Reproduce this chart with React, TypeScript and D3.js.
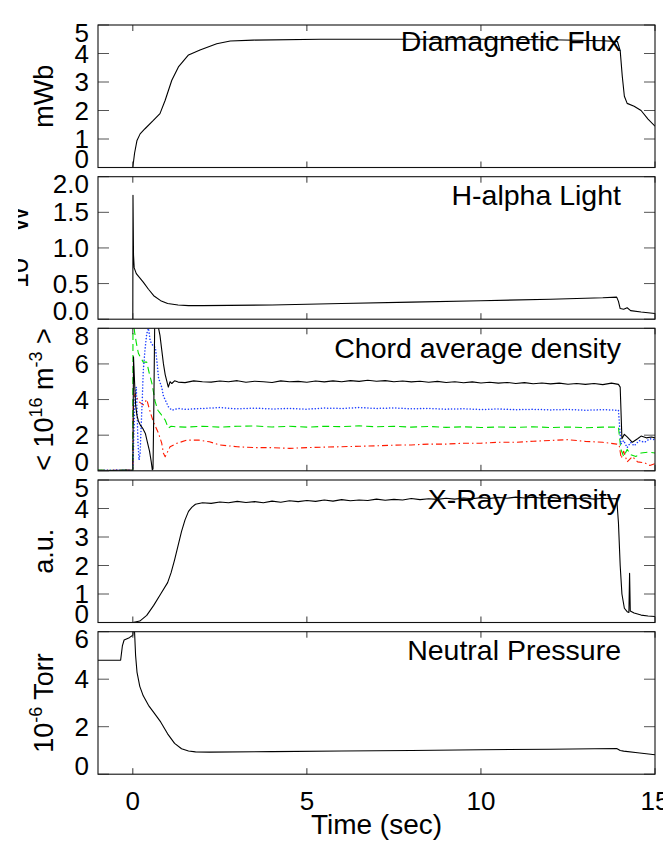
import React from 'react';
import * as d3 from 'd3';

// ---------- data ----------
const timeDomain = [-1, 15];
const xTickValues = [0, 5, 10, 15];

const panelTitles = ['Diamagnetic Flux', 'H-alpha Light', 'Chord average density', 'X-Ray Intensity', 'Neutral Pressure'];
const yDomains = [[0, 5], [0, 2], [0, 8], [0, 5], [0, 6]];
const yTickValues = [
  [0, 1, 2, 3, 4, 5],
  [0, 0.5, 1, 1.5, 2],
  [0, 2, 4, 6, 8],
  [0, 1, 2, 3, 4, 5],
  [0, 2, 4, 6],
];

const diaFlux: [number, number][] = [
  [0, 0], [0.05, 0.5], [0.12, 0.95], [0.21, 1.18], [0.35, 1.36], [0.59, 1.65], [0.78, 1.89], [0.93, 2.36],
  [1.12, 3.06], [1.31, 3.53], [1.6, 3.95], [1.93, 4.12], [2.41, 4.34], [2.8, 4.44], [3.46, 4.47], [5.4, 4.5],
  [8, 4.5], [10, 4.5], [12, 4.48], [13.5, 4.45], [13.92, 4.42], [14.0, 4.1], [14.06, 3.2], [14.12, 2.5],
  [14.2, 2.25], [14.4, 2.15], [14.6, 2.0], [14.8, 1.7], [15, 1.45],
];

const hAlpha: [number, number][] = [
  [0, 0], [0.005, 1.74], [0.02, 0.9], [0.04, 0.72], [0.1, 0.64], [0.2, 0.58], [0.3, 0.52], [0.45, 0.42],
  [0.6, 0.33], [0.8, 0.26], [1.0, 0.22], [1.3, 0.2], [1.6, 0.19], [2, 0.19], [4, 0.2], [6, 0.22], [8, 0.24],
  [10, 0.26], [12, 0.28], [13.5, 0.3], [13.9, 0.31], [13.95, 0.25], [14.0, 0.15], [14.1, 0.14], [14.2, 0.16],
  [14.3, 0.12], [14.6, 0.1], [15, 0.08],
];

const densBlack: [number, number][] = [
  [-1, 0.03], [-0.6, 0.02], [-0.2, 0.04], [0, 0.03], [0.02, 6.4], [0.05, 5.0], [0.08, 3.7], [0.12, 3.1],
  [0.16, 2.8], [0.22, 2.55], [0.28, 2.4], [0.36, 2.1], [0.42, 1.6], [0.48, 1.1], [0.53, 0.5], [0.56, 0.05],
  [0.58, 0.1], [0.6, 3.0], [0.63, 8.5], [0.66, 8.2], [0.7, 8.4], [0.74, 8.0], [0.78, 7.6], [0.83, 6.8],
  [0.88, 6.0], [0.93, 5.4], [0.98, 5.0], [1.02, 4.7], [1.07, 5.0], [1.12, 4.9], [1.2, 5.05], [1.3, 4.98],
  [1.5, 4.95], [1.75, 5.05], [2, 5.0], [2.25, 4.98], [2.5, 5.04], [2.75, 5.0], [3, 5.06], [3.25, 4.97],
  [3.5, 5.03], [3.75, 5.0], [4, 4.96], [4.25, 5.05], [4.5, 5.0], [4.75, 5.02], [5, 4.97], [5.25, 5.04],
  [5.5, 4.99], [5.75, 5.05], [6, 5.0], [6.25, 5.06], [6.5, 5.02], [6.75, 5.08], [7, 5.03], [7.25, 5.06],
  [7.5, 5.0], [7.75, 5.04], [8, 4.99], [8.25, 5.03], [8.5, 4.97], [8.75, 5.02], [9, 4.96], [9.25, 5.0],
  [9.5, 4.94], [9.75, 4.99], [10, 4.93], [10.25, 4.97], [10.5, 4.92], [10.75, 4.96], [11, 4.9], [11.25, 4.95],
  [11.5, 4.89], [11.75, 4.93], [12, 4.88], [12.25, 4.92], [12.5, 4.86], [12.75, 4.9], [13, 4.85], [13.25, 4.9],
  [13.5, 4.84], [13.75, 4.92], [13.95, 4.85], [14.0, 4.7], [14.05, 1.8], [14.12, 2.05], [14.2, 1.9],
  [14.35, 1.6], [14.5, 1.8], [14.6, 1.95], [14.75, 1.85], [14.9, 1.9], [15, 1.85],
];

const densBlue: [number, number][] = [
  [-1, 0.02], [-0.5, 0.04], [0, 0.02], [0.03, 2.0], [0.06, 4.0], [0.1, 4.7], [0.12, 3.5], [0.15, 1.5],
  [0.18, 0.6], [0.21, 1.0], [0.24, 2.5], [0.27, 3.9], [0.3, 5.6], [0.35, 6.8], [0.4, 7.7], [0.45, 8.0],
  [0.5, 7.3], [0.55, 7.1], [0.6, 7.0], [0.65, 6.9], [0.7, 6.0], [0.74, 5.2], [0.83, 4.7], [0.88, 4.2],
  [1.02, 3.6], [1.12, 3.4], [1.3, 3.5], [1.5, 3.45], [2, 3.5], [2.5, 3.55], [3, 3.48], [3.5, 3.52],
  [4, 3.47], [4.5, 3.5], [5, 3.46], [5.5, 3.52], [6, 3.5], [6.5, 3.55], [7, 3.5], [7.5, 3.53], [8, 3.48],
  [8.5, 3.5], [9, 3.46], [9.5, 3.48], [10, 3.44], [10.5, 3.47], [11, 3.43], [11.5, 3.45], [12, 3.42],
  [12.5, 3.44], [13, 3.4], [13.5, 3.43], [13.95, 3.4], [14.02, 1.5], [14.1, 1.7], [14.2, 1.3], [14.3, 1.6],
  [14.4, 1.4], [14.55, 1.7], [14.7, 1.6], [14.85, 1.8], [15, 1.75],
];

const densGreen: [number, number][] = [
  [-1, 0.04], [-0.5, 0.02], [0, 0.03], [0.005, 8.6], [0.05, 7.8], [0.1, 7.2], [0.16, 6.6], [0.21, 6.4],
  [0.3, 6.1], [0.4, 6.1], [0.47, 5.5], [0.55, 4.9], [0.64, 3.9], [0.72, 3.4], [0.8, 3.2], [0.93, 2.85],
  [1.02, 2.4], [1.1, 2.5], [1.26, 2.47], [1.5, 2.45], [2, 2.5], [2.5, 2.45], [3, 2.5], [3.5, 2.52],
  [4, 2.46], [4.5, 2.5], [5, 2.45], [5.5, 2.5], [6, 2.48], [6.5, 2.52], [7, 2.47], [7.5, 2.5], [8, 2.45],
  [8.5, 2.49], [9, 2.44], [9.5, 2.47], [10, 2.43], [10.5, 2.46], [11, 2.44], [11.5, 2.47], [12, 2.43],
  [12.5, 2.46], [13, 2.42], [13.5, 2.45], [13.95, 2.45], [14.02, 1.2], [14.1, 0.8], [14.2, 1.2], [14.3, 0.9],
  [14.45, 0.8], [14.6, 1.0], [14.8, 1.05], [15, 1.0],
];

const densRed: [number, number][] = [
  [-1, 0.02], [-0.5, 0.03], [0, 0.03], [0.02, 4.0], [0.07, 4.35], [0.16, 3.9], [0.3, 3.7], [0.4, 4.0],
  [0.5, 3.3], [0.59, 2.75], [0.74, 2.1], [0.83, 1.55], [0.88, 0.98], [0.93, 0.79], [1.07, 1.35], [1.26, 1.54],
  [1.55, 1.72], [1.9, 1.72], [2.2, 1.63], [2.5, 1.45], [3, 1.35], [3.5, 1.3], [4, 1.3], [4.5, 1.26],
  [5, 1.3], [5.5, 1.33], [6, 1.35], [6.5, 1.38], [7, 1.4], [7.5, 1.44], [8, 1.45], [8.5, 1.5], [9, 1.5],
  [9.5, 1.55], [10, 1.55], [10.5, 1.6], [11, 1.6], [11.5, 1.66], [12, 1.7], [12.5, 1.75], [13, 1.65],
  [13.5, 1.6], [13.9, 1.5], [13.97, 1.45], [14.03, 0.7], [14.1, 1.1], [14.2, 0.5], [14.35, 0.8], [14.5, 0.5],
  [14.7, 0.45], [14.85, 0.3], [15, 0.4],
];

const xRay: [number, number][] = [
  [0, 0], [0.2, 0.05], [0.4, 0.25], [0.6, 0.6], [0.8, 1.0], [1.0, 1.4], [1.1, 1.75], [1.2, 2.2], [1.3, 2.7],
  [1.4, 3.2], [1.5, 3.6], [1.6, 3.9], [1.7, 4.05], [1.8, 4.15], [2.0, 4.2], [2.25, 4.18], [2.5, 4.23],
  [2.75, 4.2], [3, 4.25], [3.25, 4.21], [3.5, 4.24], [3.75, 4.2], [4, 4.26], [4.25, 4.22], [4.5, 4.27],
  [4.75, 4.24], [5, 4.28], [5.25, 4.25], [5.5, 4.3], [5.75, 4.26], [6, 4.31], [6.25, 4.27], [6.5, 4.3],
  [6.75, 4.28], [7, 4.33], [7.25, 4.29], [7.5, 4.32], [7.75, 4.3], [8, 4.35], [8.25, 4.31], [8.5, 4.34],
  [8.75, 4.32], [9, 4.36], [9.25, 4.33], [9.5, 4.37], [9.75, 4.34], [10, 4.38], [10.25, 4.35], [10.5, 4.39],
  [10.75, 4.36], [11, 4.4], [11.25, 4.37], [11.5, 4.4], [11.75, 4.36], [12, 4.39], [12.25, 4.35], [12.5, 4.38],
  [12.75, 4.34], [13, 4.37], [13.25, 4.33], [13.5, 4.36], [13.75, 4.34], [13.9, 4.35], [13.95, 3.5],
  [14.0, 2.0], [14.05, 1.0], [14.12, 0.5], [14.2, 0.38], [14.25, 0.35], [14.27, 1.73], [14.29, 0.4],
  [14.4, 0.33], [14.6, 0.26], [14.8, 0.23], [15, 0.21],
];

const neutralP: [number, number][] = [
  [-1, 4.8], [-0.35, 4.8], [-0.3, 5.4], [-0.25, 5.65], [-0.1, 5.75], [0, 5.85], [0.02, 6.15], [0.05, 6.0],
  [0.08, 5.0], [0.12, 4.3], [0.2, 3.7], [0.3, 3.3], [0.45, 2.9], [0.6, 2.6], [0.8, 2.2], [1.0, 1.7],
  [1.2, 1.3], [1.4, 1.07], [1.6, 0.98], [1.8, 0.94], [2.2, 0.93], [4, 0.95], [6, 0.98], [8, 1.0], [10, 1.03],
  [12, 1.05], [13.9, 1.08], [14.0, 1.0], [14.1, 0.97], [14.5, 0.9], [15, 0.82],
];

// ---------- layout ----------
const W = 663;
const H = 844;
const LEFT = 98;
const RIGHT = 655;
const PANEL_TOPS = [25, 176.7, 328.3, 480, 631.7];
const PANEL_H = 142.5;
const TITLE_OFFSETS = [26, 28, 30, 29, 28];
const FONT = "'Liberation Sans', Arial, Helvetica, sans-serif";

type Series = { data: [number, number][]; color: string; dash?: string; cap?: string; width?: number };

const panelSeries: Series[][] = [
  [{ data: diaFlux, color: '#000' }],
  [{ data: hAlpha, color: '#000' }],
  [
    { data: densRed, color: '#ff1a00', dash: '6,3,1.5,3' },
    { data: densGreen, color: '#00e000', dash: '7,4' },
    { data: densBlue, color: '#1a3cff', dash: '0.1,3', cap: 'round', width: 1.5 },
    { data: densBlack, color: '#000' },
  ],
  [{ data: xRay, color: '#000' }],
  [{ data: neutralP, color: '#000' }],
];

function YTitle({ i, cx, cy }: { i: number; cx: number; cy: number }) {
  const common = {
    transform: `translate(${cx},${cy}) rotate(-90)`,
    fontSize: 27,
    fill: '#000',
  };
  if (i === 0) return <text {...common} textAnchor="middle">mWb</text>;
  if (i === 1)
    return (
      <text {...common} textAnchor="start" x={0}>
        10<tspan dx={26}>W</tspan>
      </text>
    );
  if (i === 2)
    return (
      <text {...common} textAnchor="middle">
        {'< 10'}
        <tspan fontSize={18} dy={-11}>16</tspan>
        <tspan dy={11}>{' m'}</tspan>
        <tspan fontSize={18} dy={-11}>-3</tspan>
        <tspan dy={11}>{' >'}</tspan>
      </text>
    );
  if (i === 3) return <text {...common} textAnchor="middle">a.u.</text>;
  return (
    <text {...common} textAnchor="middle">
      10
      <tspan fontSize={18} dy={-11}>-6</tspan>
      <tspan dy={11}>{' Torr'}</tspan>
    </text>
  );
}

export default function App() {
  const x = d3.scaleLinear().domain(timeDomain).range([LEFT, RIGHT]);

  return (
    <svg
      width={W}
      height={H}
      style={{ position: 'absolute', left: 0, top: 0, background: '#fff', overflow: 'hidden' }}
      fontFamily={FONT}
    >
      <defs>
        {PANEL_TOPS.map((top, i) => (
          <clipPath id={`clip${i}`} key={i}>
            <rect x={LEFT} y={top} width={RIGHT - LEFT} height={PANEL_H} />
          </clipPath>
        ))}
        <clipPath id="hclipOuter">
          <rect x={18} y={170} width={60} height={160} />
        </clipPath>
      </defs>
      {PANEL_TOPS.map((top, i) => {
        const bottom = top + PANEL_H;
        const y = d3.scaleLinear().domain(yDomains[i]).range([bottom, top]);
        const line = d3
          .line<[number, number]>()
          .x((d) => x(d[0]))
          .y((d) => y(d[1]));
        const fmt = i === 1 ? d3.format('.1f') : d3.format('d');
        const cy = (top + bottom) / 2;
        return (
          <g key={i}>
            <text x={621} y={top + TITLE_OFFSETS[i]} textAnchor="end" fontSize={28.5} fill="#000">
              {panelTitles[i]}
            </text>
            <g clipPath={`url(#clip${i})`}>
              {panelSeries[i].map((s, k) => (
                <path
                  key={k}
                  d={line(s.data) || ''}
                  fill="none"
                  stroke={s.color}
                  strokeWidth={s.width ?? 1.1}
                  strokeDasharray={s.dash}
                  strokeLinecap={(s.cap as any) ?? 'butt'}
                  strokeLinejoin="round"
                />
              ))}
            </g>
            {yTickValues[i].map((t) => (
              <g key={`yt${t}`}>
                <line x1={LEFT} x2={LEFT + 11} y1={y(t)} y2={y(t)} stroke="#555" strokeWidth={1} />
                <line x1={RIGHT - 11} x2={RIGHT} y1={y(t)} y2={y(t)} stroke="#555" strokeWidth={1} />
                <text
                  x={89}
                  y={Math.max(top + 16.5, Math.min(bottom + 0.5, y(t) + 9))}
                  textAnchor="end"
                  fontSize={26}
                  fill="#000"
                >
                  {fmt(t)}
                </text>
              </g>
            ))}
            {xTickValues.map((t) => (
              <g key={`xt${t}`}>
                <line x1={x(t)} x2={x(t)} y1={top} y2={top + 6} stroke="#333" strokeWidth={1} />
                <line x1={x(t)} x2={x(t)} y1={bottom} y2={bottom - 6} stroke="#333" strokeWidth={1} />
              </g>
            ))}
            <rect x={LEFT} y={top} width={RIGHT - LEFT} height={PANEL_H} fill="none" stroke="#111" strokeWidth={1.1} />
            {i === 1 ? (
              <g clipPath="url(#hclipOuter)">
                <YTitle i={i} cx={28} cy={288} />
              </g>
            ) : (
              <YTitle i={i} cx={53} cy={cy} />
            )}
            {i === 4 &&
              xTickValues.map((t) => (
                <text key={`xl${t}`} x={x(t)} y={810} textAnchor="middle" fontSize={26} fill="#000">
                  {t}
                </text>
              ))}
          </g>
        );
      })}
      <text x={(LEFT + RIGHT) / 2} y={834} textAnchor="middle" fontSize={28} fill="#000">
        Time (sec)
      </text>
    </svg>
  );
}
